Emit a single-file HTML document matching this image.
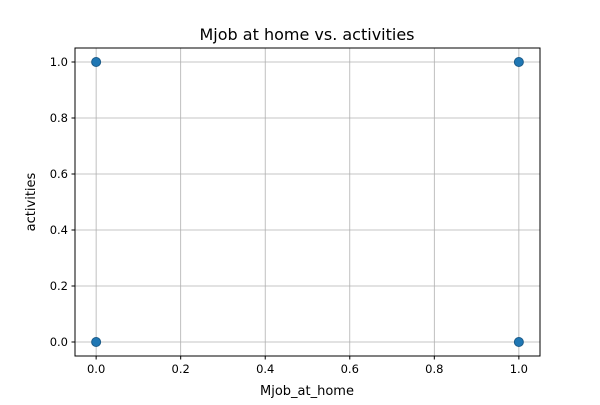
<!DOCTYPE html>
<html><head><meta charset="utf-8"><style>
body{margin:0;background:#fff;font-family:"Liberation Sans","DejaVu Sans",sans-serif}
svg text{font-family:"DejaVu Sans","Liberation Sans",sans-serif;fill:#000}
</style></head><body>
<svg id="chart" width="600" height="400" xmlns="http://www.w3.org/2000/svg">
<rect width="600" height="400" fill="#fff"/>
<g id="grid"></g><g id="ticks"></g><g id="pts"></g>
<rect x="75" y="48" width="465" height="308" fill="none" stroke="#000" stroke-width="1"/>
<text x="307" y="40" font-size="16" text-anchor="middle">Mjob at home vs. activities</text>
<text x="307" y="395" font-size="13" text-anchor="middle">Mjob_at_home</text>
<text x="35" y="202" font-size="13" text-anchor="middle" transform="rotate(-90 35 202)">activities</text>
</svg>
<script>
const xVals=[0,0,1,1];
const yVals=[0,1,0,1];
const xTicks=[0,0.2,0.4,0.6,0.8,1.0];
const yTicks=[0,0.2,0.4,0.6,0.8,1.0];
const L=75,R=540,T=48,B=356;
function sx(v){return L+(v+0.05)/1.1*(R-L);}
function sy(v){return B-(v+0.05)/1.1*(B-T);}
const NS="http://www.w3.org/2000/svg";
const g=document.getElementById('grid'),tk=document.getElementById('ticks'),p=document.getElementById('pts');
function mk(tag,at,parent){const e=document.createElementNS(NS,tag);for(const k in at)e.setAttribute(k,at[k]);parent.appendChild(e);return e;}
xTicks.forEach(v=>{const x=sx(v);
const l=mk('line',{x1:x,x2:x,y1:T,y2:B,stroke:'#b0b0b0','stroke-width':0.8},g);


const t=mk('line',{x1:x,x2:x,y1:B,y2:B+3.5,stroke:'#000'},tk);


const tx=mk('text',{x:x,y:B+17,'font-size':11.5,'text-anchor':'middle'},tk);tx.textContent=v.toFixed(1);

});
yTicks.forEach(v=>{const y=sy(v);
const l=mk('line',{x1:L,x2:R,y1:y,y2:y,stroke:'#b0b0b0','stroke-width':0.8},g);


const t=mk('line',{x1:L-3.5,x2:L,y1:y,y2:y,stroke:'#000'},tk);


const tx=mk('text',{x:L-7,y:y+4,'font-size':11.5,'text-anchor':'end'},tk);tx.textContent=v.toFixed(1);

});
xVals.forEach((v,i)=>{const c=mk('circle',{cx:sx(v),cy:sy(yVals[i]),r:4.5,fill:'#1f77b4',stroke:'#1a5a88','stroke-width':1},p);

});
</script>
</body></html>
